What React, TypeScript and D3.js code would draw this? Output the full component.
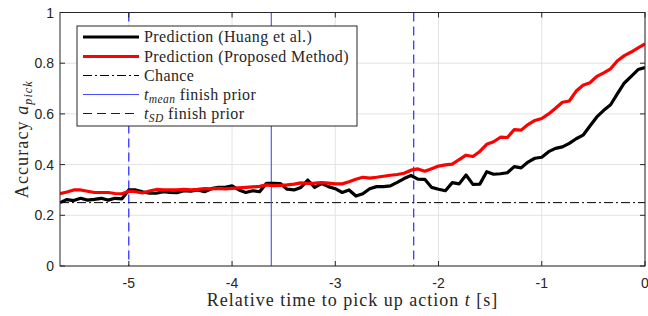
import React from "react";
import * as d3 from "d3";

const W = 648;
const H = 316;

// time samples: 15 Hz from -85/15 s to 0 s
const tIndex = d3.range(0, 86);
const times = tIndex.map((i) => (i - 85) / 15);

const predProposed = [
  0.285, 0.292, 0.3, 0.3, 0.295, 0.29, 0.29, 0.29, 0.286, 0.285,
  0.295, 0.293, 0.288, 0.296, 0.302, 0.3, 0.3, 0.3, 0.302, 0.3,
  0.302, 0.305, 0.304, 0.306, 0.304, 0.306, 0.308, 0.31, 0.312, 0.314,
  0.32, 0.317, 0.318, 0.32, 0.323, 0.328, 0.326, 0.327, 0.329, 0.327,
  0.324, 0.324, 0.332, 0.342, 0.35, 0.347, 0.35, 0.354, 0.358, 0.361,
  0.366, 0.378, 0.383, 0.374, 0.384, 0.394, 0.399, 0.402, 0.42, 0.437,
  0.432, 0.452, 0.48, 0.49, 0.508, 0.507, 0.538, 0.536, 0.558, 0.574,
  0.582, 0.6, 0.622, 0.646, 0.651, 0.69, 0.713, 0.723, 0.748, 0.762,
  0.778, 0.81, 0.83, 0.844, 0.86, 0.876,
];

const predHuang = [
  0.25, 0.262, 0.258, 0.267, 0.26, 0.263, 0.267, 0.26, 0.267, 0.265,
  0.3, 0.3, 0.293, 0.287, 0.287, 0.293, 0.29, 0.289, 0.297, 0.295,
  0.3, 0.293, 0.305, 0.31, 0.31, 0.316, 0.3, 0.29, 0.297, 0.293,
  0.326, 0.326, 0.325, 0.303, 0.3, 0.31, 0.339, 0.31, 0.325, 0.313,
  0.305, 0.29, 0.3, 0.276, 0.285, 0.305, 0.313, 0.313, 0.316, 0.33,
  0.345, 0.357, 0.343, 0.342, 0.31, 0.303, 0.297, 0.329, 0.324, 0.359,
  0.322, 0.323, 0.372, 0.362, 0.364, 0.368, 0.392, 0.387, 0.41, 0.425,
  0.429, 0.451, 0.464, 0.47, 0.484, 0.502, 0.516, 0.552, 0.588, 0.614,
  0.636, 0.68, 0.722, 0.748, 0.775, 0.783,
];

const chanceLevel = 0.25;
const tMean = -3.62;
const tSD = 1.38;

const xTicks = [-5, -4, -3, -2, -1, 0];
const yTicks = [0, 0.2, 0.4, 0.6, 0.8, 1];

const legendLabels = [
  "Prediction (Huang et al.)",
  "Prediction (Proposed Method)",
  "Chance",
];

export default function App() {
  const left = 60;
  const right = 645;
  const top = 12.5;
  const bottom = 266;

  const x = d3.scaleLinear().domain([-85 / 15, 0]).range([left, right]);
  const y = d3.scaleLinear().domain([0, 1]).range([bottom, top]);

  const line = d3
    .line<number>()
    .x((_, i) => x(times[i]))
    .y((d) => y(d));

  const axisColor = "#262626";
  const gridColor = "#e3e3e3";
  const serif = "'Liberation Serif', 'Times New Roman', serif";
  const sans = "'Liberation Sans', Arial, Helvetica, sans-serif";

  const lx0 = 83;
  const lx1 = 139;
  const ltx = 144;
  const rowY = [37, 56.5, 75.5, 94.5, 113.5];
  const legFont = 16;
  const legLS = 0.4;

  return (
    <svg width={W} height={H} style={{ position: "absolute", left: 0, top: 0 }}>
      <defs>
        <clipPath id="plot">
          <rect x={left} y={top} width={right - left} height={bottom - top} />
        </clipPath>
      </defs>
      <rect x={0} y={0} width={W} height={H} fill="#fff" />
      {/* grid */}
      {xTicks.map((t) => (
        <line key={"gx" + t} x1={x(t)} x2={x(t)} y1={top} y2={bottom} stroke={gridColor} strokeWidth={1} />
      ))}
      {yTicks.map((t) => (
        <line key={"gy" + t} x1={left} x2={right} y1={y(t)} y2={y(t)} stroke={gridColor} strokeWidth={1} />
      ))}
      <g clipPath="url(#plot)">
        {/* chance */}
        <line x1={left} x2={right} y1={y(chanceLevel)} y2={y(chanceLevel)} stroke="#000" strokeWidth={1} strokeDasharray="9 3 2 3" />
        {/* prior lines */}
        <line x1={x(tMean)} x2={x(tMean)} y1={top} y2={bottom} stroke="#4a4aff" strokeWidth={1.1} />
        <line x1={x(tMean - tSD)} x2={x(tMean - tSD)} y1={top} y2={bottom} stroke="#0000ff" strokeWidth={1} strokeDasharray="9 5" />
        <line x1={x(tMean + tSD)} x2={x(tMean + tSD)} y1={top} y2={bottom} stroke="#0000ff" strokeWidth={1} strokeDasharray="9 5" />
        <path d={line(predHuang) || ""} fill="none" stroke="#000" strokeWidth={3.2} strokeLinejoin="round" />
        <path d={line(predProposed) || ""} fill="none" stroke="#ff0000" strokeWidth={3.2} strokeLinejoin="round" />
      </g>
      {/* axes box */}
      <rect x={left} y={top} width={right - left} height={bottom - top} fill="none" stroke={axisColor} strokeWidth={1} />
      {xTicks.map((t) => (
        <g key={"tx" + t}>
          <line x1={x(t)} x2={x(t)} y1={bottom} y2={bottom - 5} stroke={axisColor} />
          <line x1={x(t)} x2={x(t)} y1={top} y2={top + 5} stroke={axisColor} />
          <text x={x(t)} y={288} textAnchor="middle" fontFamily={sans} fontSize={14} fill={axisColor}>
            {t === 0 ? "0" : String(t)}
          </text>
        </g>
      ))}
      {yTicks.map((t) => (
        <g key={"ty" + t}>
          <line x1={left} x2={left + 5} y1={y(t)} y2={y(t)} stroke={axisColor} />
          <line x1={right} x2={right - 5} y1={y(t)} y2={y(t)} stroke={axisColor} />
          <text x={54} y={y(t) + 5} textAnchor="end" fontFamily={sans} fontSize={14} fill={axisColor}>
            {String(t)}
          </text>
        </g>
      ))}
      {/* axis labels */}
      <text x={(left + right) / 2} y={306} textAnchor="middle" fontFamily={serif} fontSize={18} letterSpacing={1} fill={axisColor}>
        Relative time to pick up action <tspan fontStyle="italic">t</tspan> [s]
      </text>
      <text
        transform={`translate(28, ${(top + bottom) / 2}) rotate(-90)`}
        textAnchor="middle"
        fontFamily={serif}
        fontSize={18}
        letterSpacing={1.1}
        fill={axisColor}
      >
        Accuracy <tspan fontStyle="italic">a</tspan>
        <tspan fontStyle="italic" fontSize={12} dy={4}>pick</tspan>
      </text>
      {/* legend */}
      <rect x={77} y={26} width={280} height={100} fill="#fff" stroke={axisColor} strokeWidth={1} />
      <line x1={lx0} x2={lx1} y1={rowY[0]} y2={rowY[0]} stroke="#000" strokeWidth={3.2} />
      <line x1={lx0} x2={lx1} y1={rowY[1]} y2={rowY[1]} stroke="#ff0000" strokeWidth={3.2} />
      <line x1={lx0} x2={lx1} y1={rowY[2]} y2={rowY[2]} stroke="#000" strokeWidth={1} strokeDasharray="9 3 2 3" />
      <line x1={lx0} x2={lx1} y1={rowY[3]} y2={rowY[3]} stroke="#4a4aff" strokeWidth={1.1} />
      <line x1={lx0} x2={lx1} y1={rowY[4]} y2={rowY[4]} stroke="#0000ff" strokeWidth={1} strokeDasharray="9 5" />
      {legendLabels.map((s, i) => (
        <text key={s} x={ltx} y={rowY[i] + 5} fontFamily={serif} fontSize={legFont} letterSpacing={legLS} fill={axisColor}>
          {s}
        </text>
      ))}
      <text x={ltx} y={rowY[3] + 5} fontFamily={serif} fontSize={legFont} letterSpacing={legLS} fill={axisColor}>
        <tspan fontStyle="italic">t</tspan>
        <tspan fontStyle="italic" fontSize={11.5} dy={3}>mean</tspan>
        <tspan dy={-3}> finish prior</tspan>
      </text>
      <text x={ltx} y={rowY[4] + 5} fontFamily={serif} fontSize={legFont} letterSpacing={legLS} fill={axisColor}>
        <tspan fontStyle="italic">t</tspan>
        <tspan fontStyle="italic" fontSize={11.5} dy={3}>SD</tspan>
        <tspan dy={-3}> finish prior</tspan>
      </text>
    </svg>
  );
}
